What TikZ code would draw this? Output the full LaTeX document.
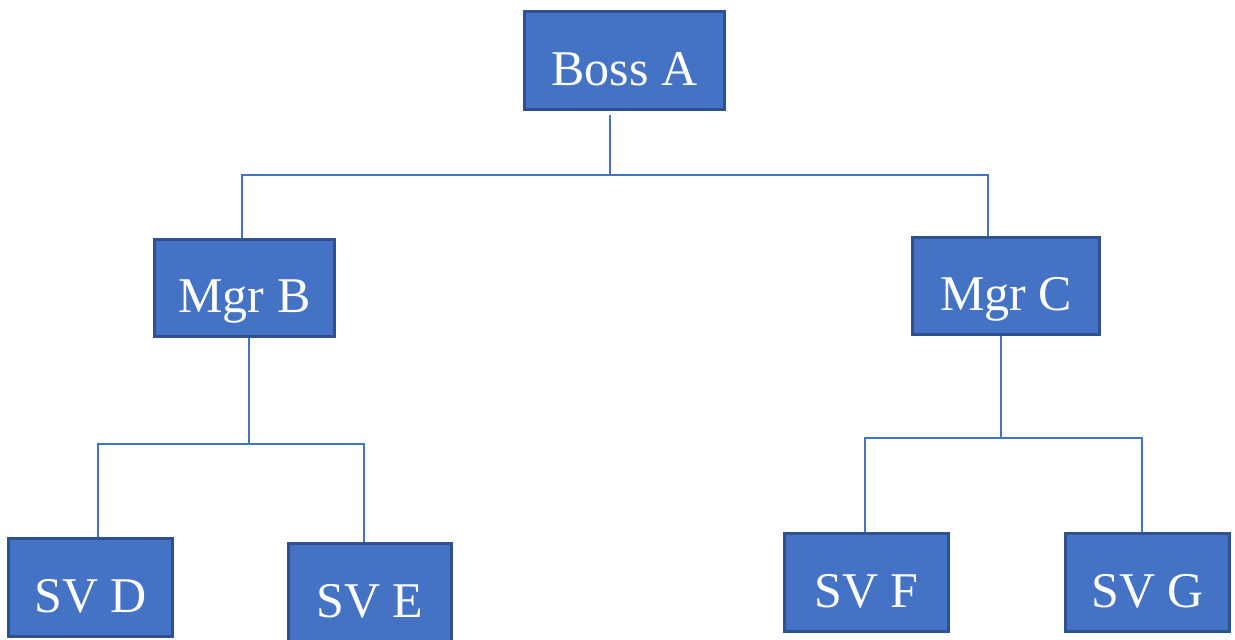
\documentclass[tikz,border=0pt]{standalone}
\usepackage{fontspec}
\setmainfont{Liberation Serif}
\definecolor{boxfill}{HTML}{4472C4}
\definecolor{boxline}{HTML}{2F528F}
\definecolor{linkcol}{HTML}{4472C4}
\tikzset{
  orgbox/.style={draw=boxline, line width=2.6pt, fill=boxfill, text=white,
    inner sep=0pt, text height=49pt, text depth=0pt,
    font=\fontsize{50}{60}\selectfont},
  link/.style={draw=linkcol, line width=1.3pt}
}
\begin{document}
\begin{tikzpicture}[x=1pt,y=-1pt]
\useasboundingbox (0,0) rectangle (1235,640);
% boxes
\node[orgbox, minimum width=200pt, minimum height=98pt] (bossA) at (624.5,60.5) {Boss A};
\node[orgbox, minimum width=180pt, minimum height=97pt] (mgrB) at (244.5,288) {Mgr B};
\node[orgbox, minimum width=187pt, minimum height=97pt] (mgrC) at (1006,286) {Mgr C};
\node[orgbox, minimum width=164pt, minimum height=98pt] (svD) at (90.5,587.5) {SV D};
\node[orgbox, minimum width=163pt, minimum height=98pt] (svE) at (370,592.5) {SV E};
\node[orgbox, minimum width=164pt, minimum height=98pt] (svF) at (866.5,582.5) {SV F};
\node[orgbox, minimum width=164pt, minimum height=98pt] (svG) at (1147.5,582.5) {SV G};
% junction points of the tree lines
\coordinate (ja) at (610,175);
\coordinate (jab) at (242,175);
\coordinate (jac) at (988,175);
\coordinate (jb) at (249,444);
\coordinate (jbd) at (98,444);
\coordinate (jbe) at (364,444);
\coordinate (jc) at (1001,438);
\coordinate (jcf) at (865,438);
\coordinate (jcg) at (1142,438);
% top level
\draw[link] ([yshift=-4pt]ja |- bossA.south) -- (ja);
\draw[link] (jab |- mgrB.north) -- (jab) -- (jac) -- (jac |- mgrC.north);
% under Mgr B
\draw[link] (jb |- mgrB.south) -- (jb);
\draw[link] (jbd |- svD.north) -- (jbd) -- (jbe) -- (jbe |- svE.north);
% under Mgr C
\draw[link] (jc |- mgrC.south) -- (jc);
\draw[link] (jcf |- svF.north) -- (jcf) -- (jcg) -- (jcg |- svG.north);
\end{tikzpicture}
\end{document}
